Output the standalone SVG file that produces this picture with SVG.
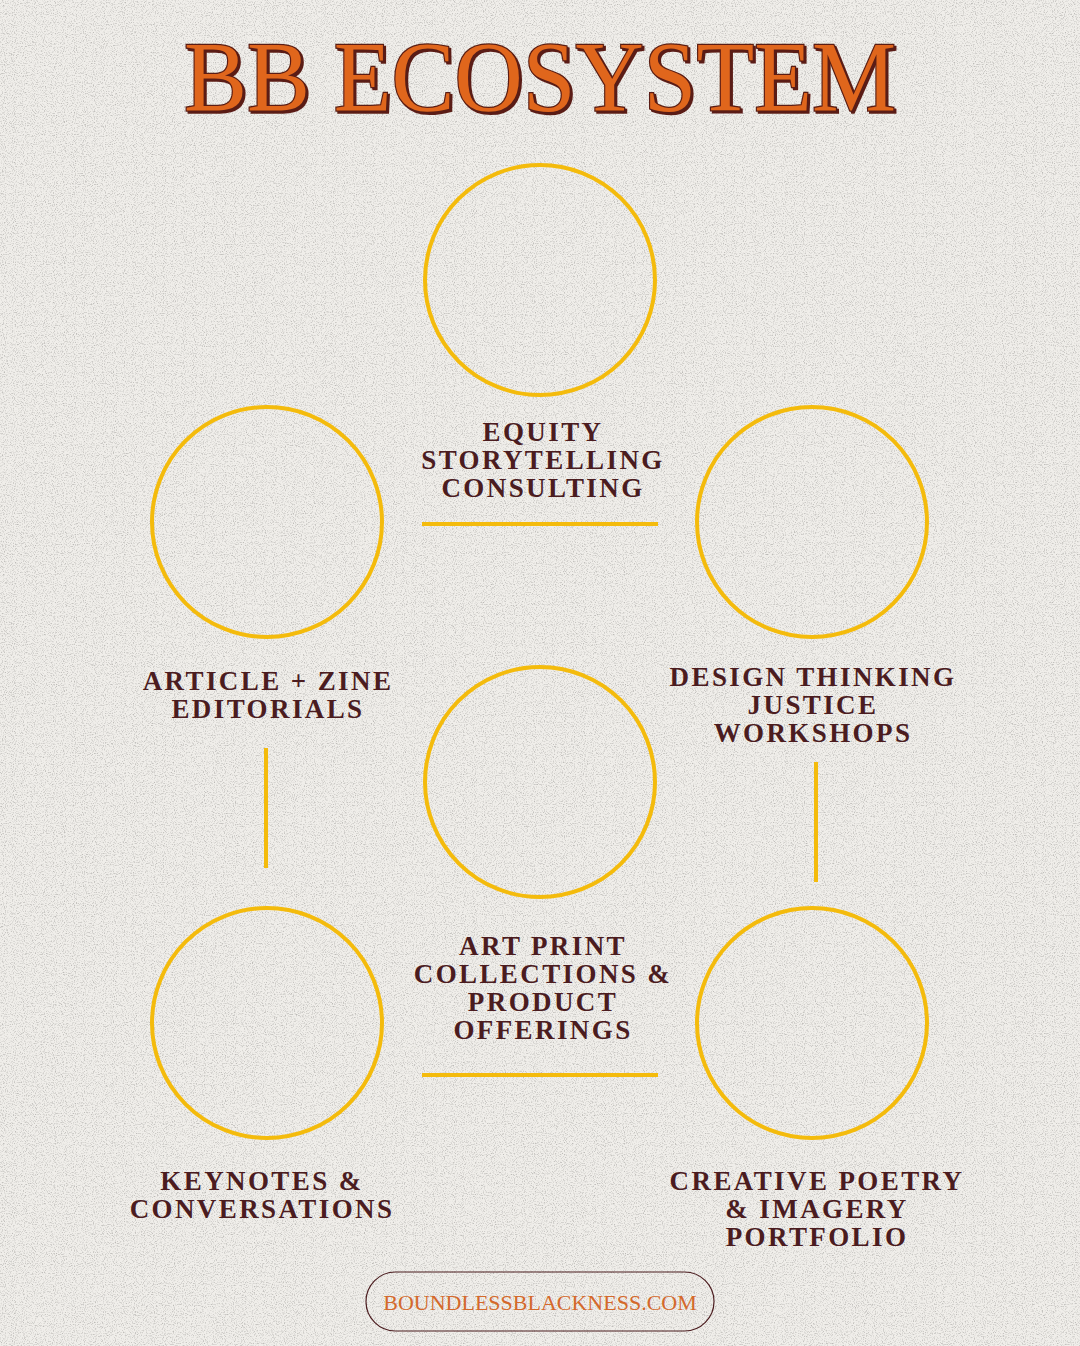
<svg xmlns="http://www.w3.org/2000/svg" width="1080" height="1346" viewBox="0 0 1080 1346">
<defs>
<filter id="grain" x="0" y="0" width="100%" height="100%">
<feTurbulence type="fractalNoise" baseFrequency="0.9" numOctaves="2" seed="3" result="n"/>
<feColorMatrix in="n" type="matrix" values="0 0 0 0 0.5  0 0 0 0 0.49  0 0 0 0 0.47  0 0 0 -2.6 1.35" result="g"/>
<feComposite in="g" in2="SourceGraphic" operator="in"/>
</filter>
<filter id="shadow" x="-5%" y="-20%" width="110%" height="140%">
<feDropShadow dx="2" dy="2" stdDeviation="0" flood-color="#5a1e12" flood-opacity="1"/>
</filter>
<style>
.ring{fill:none;stroke:#f4bb0c;stroke-width:4}
.link{stroke:#f4bb0c;stroke-width:4;fill:none}
.lbl{font-family:"Liberation Serif","DejaVu Serif",serif;font-weight:bold;font-size:27px;letter-spacing:2.4px;fill:#4b1c1f;text-anchor:middle}
.title{font-family:"Liberation Serif","DejaVu Serif",serif;font-weight:normal;font-size:100px;fill:#e0661f;stroke:#5a1e12;stroke-width:2.5;paint-order:stroke;text-anchor:middle}
.url{font-family:"Liberation Serif","DejaVu Serif",serif;font-size:22px;fill:#d4692b;text-anchor:middle}
</style>
</defs>
<rect width="1080" height="1346" fill="#f0eeea"/>
<rect width="1080" height="1346" fill="#f0eeea" filter="url(#grain)"/>
<g id="title">
<text class="title" x="540" y="110" textLength="712" lengthAdjust="spacingAndGlyphs" filter="url(#shadow)">BB ECOSYSTEM</text>
</g>
<g id="connectors">
<line class="link" x1="422" y1="524" x2="658" y2="524"/>
<line class="link" x1="422" y1="1075" x2="658" y2="1075"/>
<line class="link" x1="266" y1="748" x2="266" y2="868"/>
<line class="link" x1="816" y1="762" x2="816" y2="882"/>
</g>
<g id="node-equity">
<circle class="ring" cx="540" cy="280" r="115"/>
<text class="lbl" x="543" y="441">EQUITY</text>
<text class="lbl" x="543" y="469">STORYTELLING</text>
<text class="lbl" x="543" y="497">CONSULTING</text>
</g>
<g id="node-article">
<circle class="ring" cx="267" cy="522" r="115"/>
<text class="lbl" x="268" y="690">ARTICLE + ZINE</text>
<text class="lbl" x="268" y="718">EDITORIALS</text>
</g>
<g id="node-design">
<circle class="ring" cx="812" cy="522" r="115"/>
<text class="lbl" x="813" y="686">DESIGN THINKING</text>
<text class="lbl" x="813" y="714">JUSTICE</text>
<text class="lbl" x="813" y="742">WORKSHOPS</text>
</g>
<g id="node-art">
<circle class="ring" cx="540" cy="782" r="115"/>
<text class="lbl" x="543" y="955">ART PRINT</text>
<text class="lbl" x="543" y="983">COLLECTIONS &amp;</text>
<text class="lbl" x="543" y="1011">PRODUCT</text>
<text class="lbl" x="543" y="1039">OFFERINGS</text>
</g>
<g id="node-keynotes">
<circle class="ring" cx="267" cy="1023" r="115"/>
<text class="lbl" x="262" y="1190">KEYNOTES &amp;</text>
<text class="lbl" x="262" y="1218">CONVERSATIONS</text>
</g>
<g id="node-creative">
<circle class="ring" cx="812" cy="1023" r="115"/>
<text class="lbl" x="817" y="1190">CREATIVE POETRY</text>
<text class="lbl" x="817" y="1218">&amp; IMAGERY</text>
<text class="lbl" x="817" y="1246">PORTFOLIO</text>
</g>
<g id="footer">
<rect x="366" y="1272" width="348" height="59" rx="29.5" fill="none" stroke="#4b1c1f" stroke-width="1.2"/>
<text class="url" x="540" y="1310">BOUNDLESSBLACKNESS.COM</text>
</g>
</svg>
